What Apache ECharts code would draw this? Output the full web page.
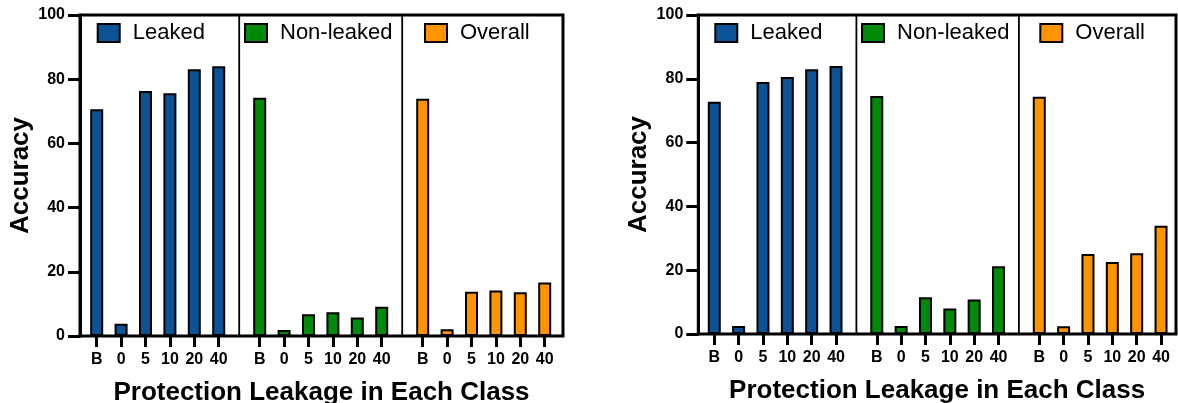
<!DOCTYPE html>
<html>
<head>
<meta charset="utf-8">
<script src="https://cdn.jsdelivr.net/npm/echarts@6/dist/echarts.min.js"></script>
<style>
html,body{margin:0;padding:0;background:#fff;}
#chart{width:1178px;height:403px;}
</style>
</head>
<body>
<div id="chart"></div>
<script>
// ---- data ----
const categories = ['B', '0', '5', '10', '20', '40'];
const seriesNames = ['Leaked', 'Non-leaked', 'Overall'];
const yTicks = [0, 20, 40, 60, 80, 100];
const leftLeaked = [70.6, 3.8, 76.3, 75.6, 83.1, 84.0];
const leftNonLeaked = [74.2, 1.9, 6.8, 7.4, 5.8, 9.1];
const leftOverall = [73.9, 2.1, 13.8, 14.2, 13.6, 16.7];
const rightLeaked = [72.8, 2.5, 79.0, 80.6, 83.0, 84.0];
const rightNonLeaked = [74.6, 2.5, 11.5, 8.0, 10.8, 21.2];
const rightOverall = [74.4, 2.4, 25.1, 22.6, 25.3, 33.9];
const yTitle = 'Accuracy';
const xTitle = 'Protection Leakage in Each Class';

// ---- style / layout ----
const colors = ['#0b5394', '#008a0a', '#ff9400'];
const FONT = '"Liberation Sans", Arial, Helvetica, sans-serif';
const panels = [
  {axisX: 80, right: 563, top: 15, zero: 336, firstBand: 84.5, band: 24.4, gap: 16.6,
   legendX: [96.7, 244, 424], data: [leftLeaked, leftNonLeaked, leftOverall]},
  {axisX: 698.3, right: 1176, top: 15, zero: 334, firstBand: 702.1, band: 24.35, gap: 16.4,
   legendX: [714.3, 861, 1039.3], data: [rightLeaked, rightNonLeaked, rightOverall]}
];

const grid = [], xAxis = [], yAxis = [], series = [], legend = [];

panels.forEach(function (p) {
  const h = p.zero - p.top;
  const groupW = categories.length * p.band;
  // frame grid
  const fi = grid.length;
  grid.push({left: p.axisX, top: p.top, width: p.right - p.axisX, height: h, outerBoundsMode: 'none',
    show: true, borderColor: '#000', borderWidth: 3, backgroundColor: 'transparent', containLabel: false});
  xAxis.push({gridIndex: fi, type: 'value', min: 0, max: 1,
    axisLine: {show: false}, axisTick: {show: false}, axisLabel: {show: false}, splitLine: {show: false},
    name: xTitle, nameLocation: 'middle', nameGap: 44,
    nameTextStyle: {fontFamily: FONT, fontWeight: 'bold', fontSize: 26, color: '#000'}});
  yAxis.push({gridIndex: fi, type: 'value', min: 0, max: 100, interval: 20,
    axisLine: {show: true, lineStyle: {color: '#000', width: 3}},
    axisTick: {show: true, inside: false, length: 12, lineStyle: {color: '#000', width: 3}},
    axisLabel: {fontFamily: FONT, fontWeight: 'bold', fontSize: 16, color: '#000', margin: 15},
    splitLine: {show: false},
    name: yTitle, nameLocation: 'middle', nameGap: 46, nameRotate: 90,
    nameTextStyle: {fontFamily: FONT, fontWeight: 'bold', fontSize: 26, color: '#000'}});
  // divider grid (between group 1/2 and 2/3)
  const d1 = p.firstBand + groupW + p.gap / 2;
  const d2 = d1 + groupW + p.gap;
  const di = grid.length;
  grid.push({left: d1, top: p.top, width: d2 - d1, height: h, outerBoundsMode: 'none',
    show: true, borderColor: '#000', borderWidth: 1.8, backgroundColor: 'transparent'});
  xAxis.push({gridIndex: di, type: 'value', min: 0, max: 1, show: false});
  yAxis.push({gridIndex: di, type: 'value', min: 0, max: 1, show: false});
  // group grids
  for (let g = 0; g < 3; g++) {
    const gi = grid.length;
    const left = p.firstBand + g * (groupW + p.gap);
    grid.push({left: left, top: p.top, width: groupW, height: h, show: false, outerBoundsMode: 'none'});
    xAxis.push({gridIndex: gi, type: 'category', data: categories,
      axisLine: {show: false},
      axisTick: {show: true, alignWithLabel: true, length: 11, lineStyle: {color: '#000', width: 3}},
      axisLabel: {fontFamily: FONT, fontWeight: 'bold', fontSize: 16, color: '#000', margin: 16, interval: 0}});
    yAxis.push({gridIndex: gi, type: 'value', min: 0, max: 100, show: false});
    series.push({type: 'bar', name: seriesNames[g], xAxisIndex: gi, yAxisIndex: gi,
      data: p.data[g], barWidth: 13,
      itemStyle: {color: colors[g], borderColor: '#000', borderWidth: 2},
      emphasis: {disabled: true}, animation: false});
    legend.push({data: [seriesNames[g]], left: p.legendX[g], top: 22, padding: 0,
      itemWidth: 22, itemHeight: 18, icon: 'rect', selectedMode: false,
      itemStyle: {borderColor: '#000', borderWidth: 2},
      textStyle: {fontFamily: FONT, fontSize: 22, color: '#000', padding: [0, 0, 0, 8]}});
  }
});

const chart = echarts.init(document.getElementById('chart'), null, {renderer: 'canvas'});
chart.setOption({animation: false, grid: grid, xAxis: xAxis, yAxis: yAxis, series: series, legend: legend});
</script>
</body>
</html>
